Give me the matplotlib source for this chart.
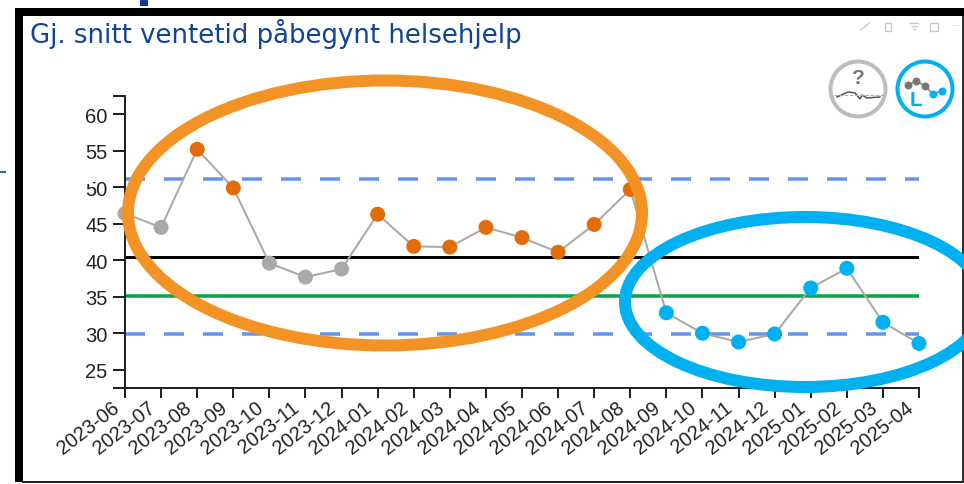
import matplotlib
matplotlib.use("Agg")
import matplotlib.pyplot as plt
from matplotlib.patches import Ellipse, Circle, Rectangle
from matplotlib.transforms import ScaledTranslation

W, H = 964, 485
months = ["2023-06","2023-07","2023-08","2023-09","2023-10","2023-11","2023-12",
          "2024-01","2024-02","2024-03","2024-04","2024-05","2024-06","2024-07","2024-08",
          "2024-09","2024-10","2024-11","2024-12","2025-01","2025-02","2025-03","2025-04"]
values = [46.4,44.5,55.2,49.9,39.6,37.7,38.8,46.3,41.9,41.8,44.5,43.1,41.1,44.9,49.7,
          32.8,30.0,28.8,29.9,36.2,38.9,31.5,28.6]
groups = ["n","n","h","h","n","n","n","h","h","h","h","h","h","h","h",
          "l","l","l","l","l","l","l","l"]
group_colors = {"n":"#a9a9a9","h":"#e36c0a","l":"#00b0f0"}
mean_value = 40.5
target_value = 35.1
upper_limit = 51.1
lower_limit = 29.85
yticks = [25,30,35,40,45,50,55,60]
title = "Gj. snitt ventetid påbegynt helsehjelp"

fig = plt.figure(figsize=(W/100, H/100), dpi=100, facecolor="white")
ax = fig.add_axes([125/W, 1-389/H, (919-125)/W, (389-97)/H])
x = list(range(len(months)))
ax.set_xlim(0, len(months)-1)
ax.set_ylim(22.5, 62.5)

px = 0.72
for s in ("top","right"):
    ax.spines[s].set_visible(False)
for s in ("left","bottom"):
    ax.spines[s].set_linewidth(2*px)
    ax.spines[s].set_color("#222222")

dash = (0,(20/3.5,19/3.5))
ax.plot([0,x[-1]],[upper_limit]*2,color="#6495ed",lw=3.5*px,ls=dash,zorder=2)
ax.plot([0,x[-1]],[lower_limit]*2,color="#6495ed",lw=3.5*px,ls=dash,zorder=2)
ax.plot([0,x[-1]],[mean_value]*2,color="black",lw=3*px,zorder=2)
ax.plot([0,x[-1]],[target_value]*2,color="#0aa546",lw=3.5*px,zorder=2)
ax.plot(x,values,color="#a9a9a9",lw=2*px,zorder=3)
ax.scatter(x,values,c=[group_colors[g] for g in groups],s=(15*px)**2,linewidths=0,zorder=4,clip_on=False)

ax.set_yticks(yticks)
ax.set_yticks([22.5,62.5],minor=True)
ax.tick_params(axis="y",which="both",length=12*px,width=2*px,color="#222222")
ax.tick_params(axis="y",which="major",labelsize=14.5,pad=4,labelcolor="#222222")
ax.set_xticks(x)
ax.tick_params(axis="x",length=10*px,width=2*px,color="#222222",pad=1)
ax.set_xticklabels(months,rotation=38,ha="right",va="top",rotation_mode="anchor",
                   fontsize=14.3,color="#222222")
shift = ScaledTranslation(-14/100, 2/100, fig.dpi_scale_trans)
for t in ax.get_xticklabels():
    t.set_family(["Liberation Sans"])
    t.set_transform(t.get_transform()+shift)
for t in ax.get_yticklabels():
    t.set_family(["Liberation Sans"])

# Overlay in pixel coordinates: frame, title, hand-drawn annotations, icons
ov = fig.add_axes([0,0,1,1],zorder=5)
ov.set_xlim(0,W); ov.set_ylim(H,0); ov.axis("off"); ov.patch.set_alpha(0)
ov.add_patch(Rectangle((14.5,9),8,474,fc="black",ec="none"))
ov.add_patch(Rectangle((14.5,9),949,8,fc="black",ec="none"))
ov.add_patch(Rectangle((22,481.5),942,2,fc="#222222",ec="none"))
ov.add_patch(Rectangle((962.3,17),1.5,466,fc="#333333",ec="none"))
ov.add_patch(Rectangle((140,0),8,7,fc="#0a3d91",ec="none"))
ov.plot([0,5],[172.5,172.5],color="#1a6fc0",lw=1.5)
ov.add_patch(Rectangle((85,180),8,5,fc="white",ec="none"))
ov.text(30.5,34,title,color="#0f4496",fontsize=18.75,family="DejaVu Sans",ha="left",va="center")

ov.add_patch(Ellipse((385,214),514,265,fc="none",ec="#f39325",lw=12*px))
ov.add_patch(Ellipse((805,303),360,170,fc="none",ec="#00b0f0",lw=12*px))

# Toggle icons
ov.add_patch(Circle((858,90),27.5,fc="white",ec="#bdbdbd",lw=4*px))
ov.text(858,78,"?",ha="center",va="center",fontsize=15,color="#777777",family="Liberation Sans",weight="bold")
ov.plot([837,848,855,860,862,867,880],[98,93,94,100,96,99,98],color="#555555",lw=1.1)
ov.plot([834,884],[96,96],color="#aaaaaa",lw=.7,ls="--")
ov.add_patch(Circle((925,90),27.5,fc="white",ec="#00b0f0",lw=4*px))
ov.plot([908,916,925,933,942],[86,82,87,95,92],color="#888888",lw=1.2,zorder=6)
ov.scatter([908,916,925],[86,82,87],s=33,c="#777777",linewidths=0,zorder=7)
ov.scatter([933,942],[95,92],s=33,c="#00b0f0",linewidths=0,zorder=7)
ov.text(916,101,"L",ha="center",va="center",fontsize=15,color="#00b0f0",family="Liberation Sans",weight="bold")

# Faint toolbar icons
tb = "#c8c8c8"
ov.plot([861,869],[31,24],color=tb,lw=1)
ov.add_patch(Rectangle((885,24),6,8,fc="none",ec=tb,lw=1))
for y0,a,b in [(24,910,918),(27,911.5,916.5),(30,913,915)]:
    ov.plot([a,b],[y0,y0],color=tb,lw=1)
ov.add_patch(Rectangle((930,24),8,8,fc="none",ec=tb,lw=1))
ov.text(956,27,"···",ha="center",va="center",fontsize=6,color="#aaaaaa")

fig.savefig("out.png",dpi=100,facecolor="white")
